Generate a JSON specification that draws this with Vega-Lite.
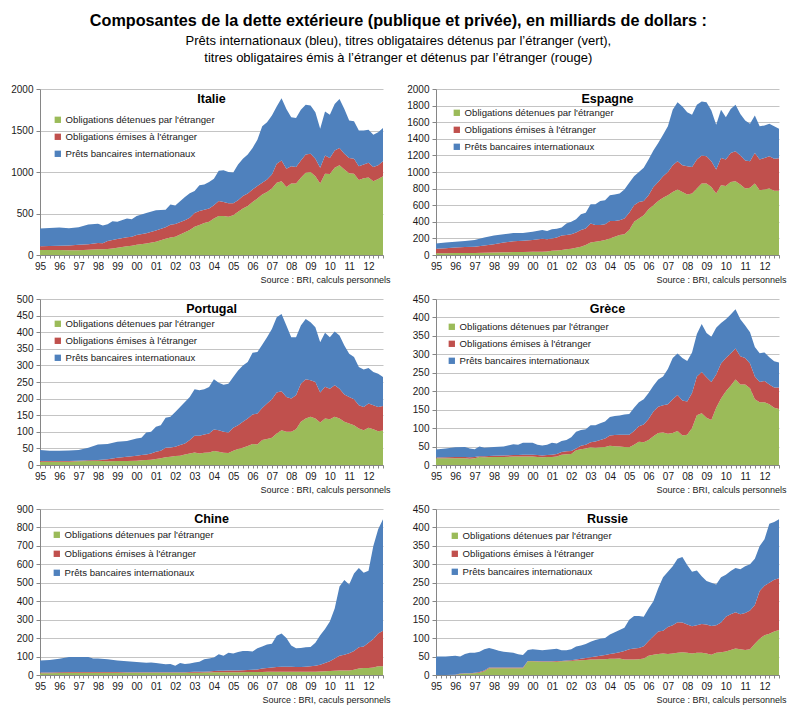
{
  "$schema": "https://vega.github.io/schema/vega-lite/v6.json",
  "padding": {"left": 10, "top": 12, "right": 4, "bottom": 4},
  "title": {
    "text": "Composantes de la dette extérieure (publique et privée), en milliards de dollars :",
    "subtitle": ["Prêts internationaux (bleu), titres obligataires détenus par l’étranger (vert),", "titres obligataires émis à l’étranger et détenus par l’étranger (rouge)"],
    "font": "Liberation Sans",
    "fontSize": 16.2,
    "fontWeight": "bold",
    "color": "#000000",
    "subtitleFont": "Liberation Sans",
    "subtitleFontSize": 13,
    "subtitleColor": "#000000",
    "subtitlePadding": 6,
    "subtitleLineHeight": 17,
    "anchor": "middle",
    "frame": "bounds",
    "baseline": "top",
    "offset": 19
  },
  "data": {
    "values": [
      {"c":"Italie","t":1995,"v1":60,"v2":45,"v3":215},
      {"c":"Italie","t":1995.5,"v1":60,"v2":48,"v3":217},
      {"c":"Italie","t":1996,"v1":60,"v2":52,"v3":218},
      {"c":"Italie","t":1996.5,"v1":58,"v2":57,"v3":207},
      {"c":"Italie","t":1997,"v1":58,"v2":64,"v3":213},
      {"c":"Italie","t":1997.5,"v1":62,"v2":68,"v3":238},
      {"c":"Italie","t":1998,"v1":68,"v2":77,"v3":233},
      {"c":"Italie","t":1998.25,"v1":68,"v2":74,"v3":213},
      {"c":"Italie","t":1998.5,"v1":72,"v2":96,"v3":202},
      {"c":"Italie","t":1998.75,"v1":78,"v2":102,"v3":228},
      {"c":"Italie","t":1999,"v1":88,"v2":104,"v3":210},
      {"c":"Italie","t":1999.5,"v1":105,"v2":110,"v3":225},
      {"c":"Italie","t":1999.75,"v1":110,"v2":110,"v3":210},
      {"c":"Italie","t":2000,"v1":125,"v2":115,"v3":230},
      {"c":"Italie","t":2000.5,"v1":140,"v2":122,"v3":243},
      {"c":"Italie","t":2001,"v1":160,"v2":135,"v3":245},
      {"c":"Italie","t":2001.5,"v1":195,"v2":140,"v3":210},
      {"c":"Italie","t":2001.75,"v1":210,"v2":155,"v3":243},
      {"c":"Italie","t":2002,"v1":220,"v2":155,"v3":220},
      {"c":"Italie","t":2002.5,"v1":275,"v2":145,"v3":280},
      {"c":"Italie","t":2002.75,"v1":300,"v2":150,"v3":295},
      {"c":"Italie","t":2003,"v1":340,"v2":165,"v3":265},
      {"c":"Italie","t":2003.25,"v1":360,"v2":170,"v3":310},
      {"c":"Italie","t":2003.5,"v1":385,"v2":160,"v3":305},
      {"c":"Italie","t":2003.75,"v1":400,"v2":160,"v3":320},
      {"c":"Italie","t":2004,"v1":440,"v2":160,"v3":320},
      {"c":"Italie","t":2004.25,"v1":470,"v2":180,"v3":365},
      {"c":"Italie","t":2004.5,"v1":470,"v2":170,"v3":380},
      {"c":"Italie","t":2004.75,"v1":460,"v2":165,"v3":375},
      {"c":"Italie","t":2005,"v1":480,"v2":145,"v3":370},
      {"c":"Italie","t":2005.25,"v1":520,"v2":140,"v3":430},
      {"c":"Italie","t":2005.5,"v1":560,"v2":150,"v3":450},
      {"c":"Italie","t":2005.75,"v1":590,"v2":150,"v3":470},
      {"c":"Italie","t":2006,"v1":640,"v2":150,"v3":500},
      {"c":"Italie","t":2006.25,"v1":680,"v2":150,"v3":560},
      {"c":"Italie","t":2006.5,"v1":730,"v2":140,"v3":680},
      {"c":"Italie","t":2006.75,"v1":760,"v2":150,"v3":690},
      {"c":"Italie","t":2007,"v1":800,"v2":170,"v3":710},
      {"c":"Italie","t":2007.25,"v1":870,"v2":230,"v3":690},
      {"c":"Italie","t":2007.5,"v1":890,"v2":250,"v3":750},
      {"c":"Italie","t":2007.75,"v1":820,"v2":220,"v3":720},
      {"c":"Italie","t":2008,"v1":860,"v2":210,"v3":590},
      {"c":"Italie","t":2008.25,"v1":860,"v2":200,"v3":590},
      {"c":"Italie","t":2008.5,"v1":930,"v2":210,"v3":610},
      {"c":"Italie","t":2008.75,"v1":990,"v2":220,"v3":600},
      {"c":"Italie","t":2009,"v1":1000,"v2":220,"v3":580},
      {"c":"Italie","t":2009.25,"v1":950,"v2":210,"v3":560},
      {"c":"Italie","t":2009.5,"v1":860,"v2":190,"v3":470},
      {"c":"Italie","t":2009.75,"v1":980,"v2":220,"v3":530},
      {"c":"Italie","t":2010,"v1":975,"v2":195,"v3":520},
      {"c":"Italie","t":2010.25,"v1":1050,"v2":210,"v3":560},
      {"c":"Italie","t":2010.5,"v1":1080,"v2":210,"v3":590},
      {"c":"Italie","t":2010.75,"v1":1030,"v2":190,"v3":540},
      {"c":"Italie","t":2011,"v1":985,"v2":185,"v3":450},
      {"c":"Italie","t":2011.25,"v1":980,"v2":180,"v3":450},
      {"c":"Italie","t":2011.5,"v1":905,"v2":165,"v3":430},
      {"c":"Italie","t":2011.75,"v1":925,"v2":165,"v3":410},
      {"c":"Italie","t":2012,"v1":935,"v2":175,"v3":400},
      {"c":"Italie","t":2012.25,"v1":890,"v2":170,"v3":390},
      {"c":"Italie","t":2012.5,"v1":915,"v2":165,"v3":400},
      {"c":"Italie","t":2012.75,"v1":950,"v2":180,"v3":400},

      {"c":"Espagne","t":1995,"v1":20,"v2":55,"v3":65},
      {"c":"Espagne","t":1995.5,"v1":22,"v2":60,"v3":68},
      {"c":"Espagne","t":1996,"v1":25,"v2":65,"v3":70},
      {"c":"Espagne","t":1996.5,"v1":25,"v2":70,"v3":75},
      {"c":"Espagne","t":1997,"v1":25,"v2":75,"v3":80},
      {"c":"Espagne","t":1997.5,"v1":28,"v2":87,"v3":95},
      {"c":"Espagne","t":1998,"v1":30,"v2":100,"v3":105},
      {"c":"Espagne","t":1998.5,"v1":32,"v2":118,"v3":100},
      {"c":"Espagne","t":1999,"v1":35,"v2":130,"v3":100},
      {"c":"Espagne","t":1999.5,"v1":37,"v2":135,"v3":93},
      {"c":"Espagne","t":2000,"v1":40,"v2":140,"v3":100},
      {"c":"Espagne","t":2000.5,"v1":40,"v2":155,"v3":105},
      {"c":"Espagne","t":2000.75,"v1":42,"v2":148,"v3":100},
      {"c":"Espagne","t":2001,"v1":50,"v2":150,"v3":110},
      {"c":"Espagne","t":2001.25,"v1":55,"v2":155,"v3":105},
      {"c":"Espagne","t":2001.5,"v1":60,"v2":175,"v3":95},
      {"c":"Espagne","t":2001.75,"v1":68,"v2":172,"v3":140},
      {"c":"Espagne","t":2002,"v1":75,"v2":175,"v3":150},
      {"c":"Espagne","t":2002.25,"v1":88,"v2":182,"v3":160},
      {"c":"Espagne","t":2002.5,"v1":100,"v2":200,"v3":190},
      {"c":"Espagne","t":2002.75,"v1":120,"v2":200,"v3":190},
      {"c":"Espagne","t":2003,"v1":150,"v2":230,"v3":230},
      {"c":"Espagne","t":2003.25,"v1":160,"v2":200,"v3":250},
      {"c":"Espagne","t":2003.5,"v1":170,"v2":190,"v3":290},
      {"c":"Espagne","t":2003.75,"v1":180,"v2":190,"v3":290},
      {"c":"Espagne","t":2004,"v1":200,"v2":210,"v3":310},
      {"c":"Espagne","t":2004.25,"v1":220,"v2":190,"v3":320},
      {"c":"Espagne","t":2004.5,"v1":240,"v2":180,"v3":320},
      {"c":"Espagne","t":2004.75,"v1":250,"v2":190,"v3":350},
      {"c":"Espagne","t":2005,"v1":300,"v2":210,"v3":360},
      {"c":"Espagne","t":2005.25,"v1":400,"v2":200,"v3":350},
      {"c":"Espagne","t":2005.5,"v1":440,"v2":200,"v3":360},
      {"c":"Espagne","t":2005.75,"v1":480,"v2":170,"v3":400},
      {"c":"Espagne","t":2006,"v1":550,"v2":170,"v3":430},
      {"c":"Espagne","t":2006.25,"v1":600,"v2":220,"v3":440},
      {"c":"Espagne","t":2006.5,"v1":650,"v2":230,"v3":470},
      {"c":"Espagne","t":2006.75,"v1":690,"v2":260,"v3":500},
      {"c":"Espagne","t":2007,"v1":720,"v2":280,"v3":550},
      {"c":"Espagne","t":2007.25,"v1":760,"v2":320,"v3":670},
      {"c":"Espagne","t":2007.5,"v1":790,"v2":340,"v3":710},
      {"c":"Espagne","t":2007.75,"v1":760,"v2":320,"v3":710},
      {"c":"Espagne","t":2008,"v1":730,"v2":340,"v3":650},
      {"c":"Espagne","t":2008.25,"v1":740,"v2":320,"v3":630},
      {"c":"Espagne","t":2008.5,"v1":800,"v2":350,"v3":660},
      {"c":"Espagne","t":2008.75,"v1":860,"v2":340,"v3":650},
      {"c":"Espagne","t":2009,"v1":860,"v2":330,"v3":650},
      {"c":"Espagne","t":2009.25,"v1":820,"v2":310,"v3":610},
      {"c":"Espagne","t":2009.5,"v1":740,"v2":290,"v3":540},
      {"c":"Espagne","t":2009.75,"v1":840,"v2":330,"v3":580},
      {"c":"Espagne","t":2010,"v1":830,"v2":320,"v3":510},
      {"c":"Espagne","t":2010.25,"v1":880,"v2":350,"v3":530},
      {"c":"Espagne","t":2010.5,"v1":890,"v2":360,"v3":560},
      {"c":"Espagne","t":2010.75,"v1":850,"v2":350,"v3":500},
      {"c":"Espagne","t":2011,"v1":800,"v2":340,"v3":480},
      {"c":"Espagne","t":2011.25,"v1":810,"v2":320,"v3":450},
      {"c":"Espagne","t":2011.5,"v1":860,"v2":370,"v3":450},
      {"c":"Espagne","t":2011.75,"v1":780,"v2":370,"v3":400},
      {"c":"Espagne","t":2012,"v1":790,"v2":380,"v3":390},
      {"c":"Espagne","t":2012.25,"v1":800,"v2":390,"v3":390},
      {"c":"Espagne","t":2012.5,"v1":775,"v2":385,"v3":390},
      {"c":"Espagne","t":2012.75,"v1":775,"v2":390,"v3":355},

      {"c":"Portugal","t":1995,"v1":10,"v2":2,"v3":33},
      {"c":"Portugal","t":1995.5,"v1":10,"v2":2,"v3":31},
      {"c":"Portugal","t":1996,"v1":10,"v2":2,"v3":31},
      {"c":"Portugal","t":1996.5,"v1":10,"v2":2,"v3":32},
      {"c":"Portugal","t":1997,"v1":11,"v2":2,"v3":32},
      {"c":"Portugal","t":1997.5,"v1":12,"v2":2,"v3":38},
      {"c":"Portugal","t":1998,"v1":13,"v2":2,"v3":47},
      {"c":"Portugal","t":1998.5,"v1":11,"v2":6,"v3":46},
      {"c":"Portugal","t":1999,"v1":12,"v2":10,"v3":48},
      {"c":"Portugal","t":1999.5,"v1":12,"v2":13,"v3":47},
      {"c":"Portugal","t":2000,"v1":13,"v2":15,"v3":52},
      {"c":"Portugal","t":2000.25,"v1":14,"v2":16,"v3":52},
      {"c":"Portugal","t":2000.5,"v1":15,"v2":17,"v3":66},
      {"c":"Portugal","t":2000.75,"v1":16,"v2":19,"v3":65},
      {"c":"Portugal","t":2001,"v1":18,"v2":22,"v3":75},
      {"c":"Portugal","t":2001.25,"v1":20,"v2":23,"v3":77},
      {"c":"Portugal","t":2001.5,"v1":23,"v2":29,"v3":90},
      {"c":"Portugal","t":2001.75,"v1":25,"v2":28,"v3":92},
      {"c":"Portugal","t":2002,"v1":27,"v2":28,"v3":105},
      {"c":"Portugal","t":2002.25,"v1":28,"v2":32,"v3":115},
      {"c":"Portugal","t":2002.5,"v1":32,"v2":33,"v3":125},
      {"c":"Portugal","t":2002.75,"v1":35,"v2":40,"v3":130},
      {"c":"Portugal","t":2003,"v1":38,"v2":50,"v3":140},
      {"c":"Portugal","t":2003.25,"v1":35,"v2":53,"v3":137},
      {"c":"Portugal","t":2003.5,"v1":37,"v2":55,"v3":136},
      {"c":"Portugal","t":2003.75,"v1":38,"v2":57,"v3":140},
      {"c":"Portugal","t":2004,"v1":42,"v2":65,"v3":151},
      {"c":"Portugal","t":2004.25,"v1":40,"v2":65,"v3":143},
      {"c":"Portugal","t":2004.5,"v1":37,"v2":63,"v3":142},
      {"c":"Portugal","t":2004.75,"v1":36,"v2":62,"v3":147},
      {"c":"Portugal","t":2005,"v1":43,"v2":69,"v3":153},
      {"c":"Portugal","t":2005.25,"v1":48,"v2":72,"v3":165},
      {"c":"Portugal","t":2005.5,"v1":52,"v2":78,"v3":170},
      {"c":"Portugal","t":2005.75,"v1":57,"v2":83,"v3":170},
      {"c":"Portugal","t":2006,"v1":63,"v2":89,"v3":186},
      {"c":"Portugal","t":2006.25,"v1":62,"v2":93,"v3":185},
      {"c":"Portugal","t":2006.5,"v1":75,"v2":97,"v3":190},
      {"c":"Portugal","t":2006.75,"v1":78,"v2":107,"v3":200},
      {"c":"Portugal","t":2007,"v1":82,"v2":116,"v3":212},
      {"c":"Portugal","t":2007.25,"v1":95,"v2":123,"v3":227},
      {"c":"Portugal","t":2007.5,"v1":105,"v2":117,"v3":233},
      {"c":"Portugal","t":2007.75,"v1":100,"v2":105,"v3":215},
      {"c":"Portugal","t":2008,"v1":100,"v2":100,"v3":185},
      {"c":"Portugal","t":2008.25,"v1":108,"v2":102,"v3":175},
      {"c":"Portugal","t":2008.5,"v1":130,"v2":115,"v3":175},
      {"c":"Portugal","t":2008.75,"v1":140,"v2":118,"v3":182},
      {"c":"Portugal","t":2009,"v1":145,"v2":110,"v3":175},
      {"c":"Portugal","t":2009.25,"v1":140,"v2":110,"v3":165},
      {"c":"Portugal","t":2009.5,"v1":128,"v2":90,"v3":152},
      {"c":"Portugal","t":2009.75,"v1":140,"v2":96,"v3":162},
      {"c":"Portugal","t":2010,"v1":138,"v2":92,"v3":155},
      {"c":"Portugal","t":2010.25,"v1":145,"v2":95,"v3":162},
      {"c":"Portugal","t":2010.5,"v1":140,"v2":90,"v3":160},
      {"c":"Portugal","t":2010.75,"v1":130,"v2":82,"v3":148},
      {"c":"Portugal","t":2011,"v1":125,"v2":80,"v3":130},
      {"c":"Portugal","t":2011.25,"v1":120,"v2":78,"v3":127},
      {"c":"Portugal","t":2011.5,"v1":110,"v2":70,"v3":115},
      {"c":"Portugal","t":2011.75,"v1":105,"v2":70,"v3":113},
      {"c":"Portugal","t":2012,"v1":112,"v2":73,"v3":107},
      {"c":"Portugal","t":2012.25,"v1":108,"v2":72,"v3":100},
      {"c":"Portugal","t":2012.5,"v1":102,"v2":73,"v3":100},
      {"c":"Portugal","t":2012.75,"v1":104,"v2":74,"v3":87},

      {"c":"Grèce","t":1995,"v1":18,"v2":2,"v3":22},
      {"c":"Grèce","t":1995.5,"v1":18,"v2":3,"v3":24},
      {"c":"Grèce","t":1996,"v1":18,"v2":4,"v3":26},
      {"c":"Grèce","t":1996.5,"v1":18,"v2":4,"v3":27},
      {"c":"Grèce","t":1996.75,"v1":17,"v2":4,"v3":24},
      {"c":"Grèce","t":1997,"v1":18,"v2":4,"v3":21},
      {"c":"Grèce","t":1997.25,"v1":22,"v2":2,"v3":26},
      {"c":"Grèce","t":1997.5,"v1":21,"v2":3,"v3":23},
      {"c":"Grèce","t":1998,"v1":22,"v2":3,"v3":24},
      {"c":"Grèce","t":1998.5,"v1":22,"v2":4,"v3":24},
      {"c":"Grèce","t":1999,"v1":23,"v2":4,"v3":29},
      {"c":"Grèce","t":1999.25,"v1":23,"v2":4,"v3":28},
      {"c":"Grèce","t":1999.5,"v1":23,"v2":5,"v3":32},
      {"c":"Grèce","t":1999.75,"v1":23,"v2":5,"v3":32},
      {"c":"Grèce","t":2000,"v1":23,"v2":5,"v3":32},
      {"c":"Grèce","t":2000.25,"v1":22,"v2":5,"v3":28},
      {"c":"Grèce","t":2000.5,"v1":21,"v2":5,"v3":27},
      {"c":"Grèce","t":2000.75,"v1":22,"v2":5,"v3":28},
      {"c":"Grèce","t":2001,"v1":22,"v2":6,"v3":32},
      {"c":"Grèce","t":2001.25,"v1":23,"v2":7,"v3":28},
      {"c":"Grèce","t":2001.5,"v1":28,"v2":7,"v3":30},
      {"c":"Grèce","t":2001.75,"v1":29,"v2":8,"v3":31},
      {"c":"Grèce","t":2002,"v1":30,"v2":8,"v3":37},
      {"c":"Grèce","t":2002.25,"v1":40,"v2":5,"v3":45},
      {"c":"Grèce","t":2002.5,"v1":43,"v2":9,"v3":43},
      {"c":"Grèce","t":2002.75,"v1":45,"v2":10,"v3":42},
      {"c":"Grèce","t":2003,"v1":48,"v2":14,"v3":46},
      {"c":"Grèce","t":2003.25,"v1":47,"v2":17,"v3":44},
      {"c":"Grèce","t":2003.5,"v1":48,"v2":20,"v3":45},
      {"c":"Grèce","t":2003.75,"v1":49,"v2":23,"v3":46},
      {"c":"Grèce","t":2004,"v1":52,"v2":28,"v3":50},
      {"c":"Grèce","t":2004.25,"v1":51,"v2":30,"v3":52},
      {"c":"Grèce","t":2004.5,"v1":50,"v2":32,"v3":52},
      {"c":"Grèce","t":2004.75,"v1":49,"v2":33,"v3":55},
      {"c":"Grèce","t":2005,"v1":48,"v2":34,"v3":56},
      {"c":"Grèce","t":2005.25,"v1":55,"v2":37,"v3":63},
      {"c":"Grèce","t":2005.5,"v1":63,"v2":42,"v3":65},
      {"c":"Grèce","t":2005.75,"v1":62,"v2":48,"v3":68},
      {"c":"Grèce","t":2006,"v1":68,"v2":57,"v3":70},
      {"c":"Grèce","t":2006.25,"v1":78,"v2":67,"v3":70},
      {"c":"Grèce","t":2006.5,"v1":87,"v2":71,"v3":74},
      {"c":"Grèce","t":2006.75,"v1":88,"v2":74,"v3":78},
      {"c":"Grèce","t":2007,"v1":85,"v2":80,"v3":95},
      {"c":"Grèce","t":2007.25,"v1":87,"v2":91,"v3":112},
      {"c":"Grèce","t":2007.5,"v1":92,"v2":98,"v3":112},
      {"c":"Grèce","t":2007.75,"v1":80,"v2":95,"v3":115},
      {"c":"Grèce","t":2008,"v1":82,"v2":90,"v3":110},
      {"c":"Grèce","t":2008.25,"v1":100,"v2":95,"v3":110},
      {"c":"Grèce","t":2008.5,"v1":135,"v2":105,"v3":115},
      {"c":"Grèce","t":2008.75,"v1":140,"v2":112,"v3":130},
      {"c":"Grèce","t":2009,"v1":128,"v2":110,"v3":120},
      {"c":"Grèce","t":2009.25,"v1":122,"v2":103,"v3":123},
      {"c":"Grèce","t":2009.5,"v1":155,"v2":90,"v3":127},
      {"c":"Grèce","t":2009.75,"v1":180,"v2":95,"v3":110},
      {"c":"Grèce","t":2010,"v1":200,"v2":90,"v3":105},
      {"c":"Grèce","t":2010.25,"v1":215,"v2":87,"v3":106},
      {"c":"Grèce","t":2010.5,"v1":232,"v2":84,"v3":106},
      {"c":"Grèce","t":2010.75,"v1":218,"v2":77,"v3":100},
      {"c":"Grèce","t":2011,"v1":218,"v2":72,"v3":88},
      {"c":"Grèce","t":2011.25,"v1":208,"v2":67,"v3":85},
      {"c":"Grèce","t":2011.5,"v1":178,"v2":62,"v3":80},
      {"c":"Grèce","t":2011.75,"v1":170,"v2":55,"v3":78},
      {"c":"Grèce","t":2012,"v1":170,"v2":58,"v3":77},
      {"c":"Grèce","t":2012.25,"v1":165,"v2":53,"v3":74},
      {"c":"Grèce","t":2012.5,"v1":155,"v2":55,"v3":71},
      {"c":"Grèce","t":2012.75,"v1":152,"v2":58,"v3":68},

      {"c":"Chine","t":1995,"v1":10,"v2":4,"v3":64},
      {"c":"Chine","t":1995.5,"v1":10,"v2":4,"v3":68},
      {"c":"Chine","t":1996,"v1":11,"v2":4,"v3":73},
      {"c":"Chine","t":1996.5,"v1":12,"v2":4,"v3":81},
      {"c":"Chine","t":1997,"v1":12,"v2":4,"v3":82},
      {"c":"Chine","t":1997.5,"v1":12,"v2":4,"v3":81},
      {"c":"Chine","t":1997.75,"v1":12,"v2":4,"v3":74},
      {"c":"Chine","t":1998,"v1":12,"v2":4,"v3":74},
      {"c":"Chine","t":1998.5,"v1":12,"v2":4,"v3":69},
      {"c":"Chine","t":1999,"v1":12,"v2":4,"v3":62},
      {"c":"Chine","t":1999.5,"v1":12,"v2":3,"v3":60},
      {"c":"Chine","t":2000,"v1":12,"v2":3,"v3":55},
      {"c":"Chine","t":2000.5,"v1":12,"v2":3,"v3":51},
      {"c":"Chine","t":2000.75,"v1":12,"v2":3,"v3":53},
      {"c":"Chine","t":2001,"v1":12,"v2":3,"v3":50},
      {"c":"Chine","t":2001.5,"v1":12,"v2":3,"v3":43},
      {"c":"Chine","t":2001.75,"v1":12,"v2":3,"v3":45},
      {"c":"Chine","t":2002,"v1":12,"v2":3,"v3":35},
      {"c":"Chine","t":2002.25,"v1":12,"v2":3,"v3":50},
      {"c":"Chine","t":2002.5,"v1":12,"v2":3,"v3":45},
      {"c":"Chine","t":2002.75,"v1":12,"v2":4,"v3":47},
      {"c":"Chine","t":2003,"v1":12,"v2":5,"v3":51},
      {"c":"Chine","t":2003.25,"v1":12,"v2":5,"v3":55},
      {"c":"Chine","t":2003.5,"v1":13,"v2":5,"v3":67},
      {"c":"Chine","t":2003.75,"v1":13,"v2":6,"v3":71},
      {"c":"Chine","t":2004,"v1":15,"v2":7,"v3":73},
      {"c":"Chine","t":2004.25,"v1":15,"v2":8,"v3":89},
      {"c":"Chine","t":2004.5,"v1":15,"v2":8,"v3":82},
      {"c":"Chine","t":2004.75,"v1":15,"v2":9,"v3":96},
      {"c":"Chine","t":2005,"v1":15,"v2":10,"v3":92},
      {"c":"Chine","t":2005.25,"v1":15,"v2":10,"v3":100},
      {"c":"Chine","t":2005.5,"v1":15,"v2":11,"v3":104},
      {"c":"Chine","t":2005.75,"v1":16,"v2":11,"v3":103},
      {"c":"Chine","t":2006,"v1":16,"v2":12,"v3":100},
      {"c":"Chine","t":2006.25,"v1":16,"v2":14,"v3":115},
      {"c":"Chine","t":2006.5,"v1":16,"v2":19,"v3":120},
      {"c":"Chine","t":2006.75,"v1":17,"v2":21,"v3":127},
      {"c":"Chine","t":2007,"v1":17,"v2":23,"v3":130},
      {"c":"Chine","t":2007.25,"v1":17,"v2":26,"v3":170},
      {"c":"Chine","t":2007.5,"v1":17,"v2":28,"v3":180},
      {"c":"Chine","t":2007.75,"v1":17,"v2":28,"v3":155},
      {"c":"Chine","t":2008,"v1":17,"v2":28,"v3":115},
      {"c":"Chine","t":2008.25,"v1":17,"v2":27,"v3":101},
      {"c":"Chine","t":2008.5,"v1":17,"v2":27,"v3":103},
      {"c":"Chine","t":2008.75,"v1":18,"v2":27,"v3":105},
      {"c":"Chine","t":2009,"v1":18,"v2":29,"v3":105},
      {"c":"Chine","t":2009.25,"v1":18,"v2":32,"v3":125},
      {"c":"Chine","t":2009.5,"v1":19,"v2":36,"v3":160},
      {"c":"Chine","t":2009.75,"v1":20,"v2":45,"v3":185},
      {"c":"Chine","t":2010,"v1":22,"v2":53,"v3":215},
      {"c":"Chine","t":2010.25,"v1":23,"v2":67,"v3":270},
      {"c":"Chine","t":2010.5,"v1":24,"v2":81,"v3":375},
      {"c":"Chine","t":2010.75,"v1":25,"v2":85,"v3":405},
      {"c":"Chine","t":2011,"v1":25,"v2":93,"v3":372},
      {"c":"Chine","t":2011.25,"v1":28,"v2":102,"v3":420},
      {"c":"Chine","t":2011.5,"v1":35,"v2":115,"v3":430},
      {"c":"Chine","t":2011.75,"v1":38,"v2":117,"v3":400},
      {"c":"Chine","t":2012,"v1":38,"v2":137,"v3":390},
      {"c":"Chine","t":2012.25,"v1":40,"v2":155,"v3":505},
      {"c":"Chine","t":2012.5,"v1":48,"v2":177,"v3":565},
      {"c":"Chine","t":2012.75,"v1":48,"v2":192,"v3":605},

      {"c":"Russie","t":1995,"v1":0,"v2":0,"v3":50},
      {"c":"Russie","t":1995.5,"v1":0,"v2":0,"v3":50},
      {"c":"Russie","t":1996,"v1":0,"v2":1,"v3":51},
      {"c":"Russie","t":1996.25,"v1":3,"v2":1,"v3":46},
      {"c":"Russie","t":1996.5,"v1":4,"v2":1,"v3":52},
      {"c":"Russie","t":1996.75,"v1":4,"v2":1,"v3":55},
      {"c":"Russie","t":1997,"v1":5,"v2":1,"v3":54},
      {"c":"Russie","t":1997.25,"v1":6,"v2":2,"v3":55},
      {"c":"Russie","t":1997.5,"v1":10,"v2":2,"v3":58},
      {"c":"Russie","t":1997.75,"v1":18,"v2":2,"v3":53},
      {"c":"Russie","t":1998,"v1":18,"v2":2,"v3":50},
      {"c":"Russie","t":1998.25,"v1":18,"v2":2,"v3":46},
      {"c":"Russie","t":1998.5,"v1":18,"v2":2,"v3":43},
      {"c":"Russie","t":1998.75,"v1":18,"v2":2,"v3":42},
      {"c":"Russie","t":1999,"v1":18,"v2":2,"v3":40},
      {"c":"Russie","t":1999.25,"v1":18,"v2":2,"v3":36},
      {"c":"Russie","t":1999.5,"v1":18,"v2":2,"v3":34},
      {"c":"Russie","t":1999.75,"v1":37,"v2":1,"v3":30},
      {"c":"Russie","t":2000,"v1":37,"v2":1,"v3":32},
      {"c":"Russie","t":2000.5,"v1":36,"v2":1,"v3":30},
      {"c":"Russie","t":2001,"v1":36,"v2":1,"v3":33},
      {"c":"Russie","t":2001.25,"v1":36,"v2":2,"v3":33},
      {"c":"Russie","t":2001.5,"v1":37,"v2":1,"v3":29},
      {"c":"Russie","t":2001.75,"v1":37,"v2":2,"v3":28},
      {"c":"Russie","t":2002,"v1":38,"v2":2,"v3":30},
      {"c":"Russie","t":2002.25,"v1":39,"v2":3,"v3":35},
      {"c":"Russie","t":2002.5,"v1":40,"v2":4,"v3":36},
      {"c":"Russie","t":2002.75,"v1":41,"v2":5,"v3":38},
      {"c":"Russie","t":2003,"v1":42,"v2":6,"v3":42},
      {"c":"Russie","t":2003.25,"v1":42,"v2":8,"v3":45},
      {"c":"Russie","t":2003.5,"v1":43,"v2":9,"v3":46},
      {"c":"Russie","t":2003.75,"v1":43,"v2":11,"v3":46},
      {"c":"Russie","t":2004,"v1":44,"v2":13,"v3":53},
      {"c":"Russie","t":2004.25,"v1":44,"v2":15,"v3":57},
      {"c":"Russie","t":2004.5,"v1":45,"v2":17,"v3":60},
      {"c":"Russie","t":2004.75,"v1":42,"v2":23,"v3":63},
      {"c":"Russie","t":2005,"v1":42,"v2":28,"v3":80},
      {"c":"Russie","t":2005.25,"v1":42,"v2":30,"v3":88},
      {"c":"Russie","t":2005.5,"v1":43,"v2":30,"v3":87},
      {"c":"Russie","t":2005.75,"v1":45,"v2":33,"v3":80},
      {"c":"Russie","t":2006,"v1":52,"v2":40,"v3":88},
      {"c":"Russie","t":2006.25,"v1":55,"v2":50,"v3":95},
      {"c":"Russie","t":2006.5,"v1":57,"v2":61,"v3":117},
      {"c":"Russie","t":2006.75,"v1":58,"v2":62,"v3":145},
      {"c":"Russie","t":2007,"v1":57,"v2":73,"v3":150},
      {"c":"Russie","t":2007.25,"v1":58,"v2":77,"v3":160},
      {"c":"Russie","t":2007.5,"v1":60,"v2":83,"v3":172},
      {"c":"Russie","t":2007.75,"v1":62,"v2":80,"v3":178},
      {"c":"Russie","t":2008,"v1":60,"v2":77,"v3":161},
      {"c":"Russie","t":2008.25,"v1":58,"v2":74,"v3":148},
      {"c":"Russie","t":2008.5,"v1":60,"v2":75,"v3":148},
      {"c":"Russie","t":2008.75,"v1":60,"v2":78,"v3":130},
      {"c":"Russie","t":2009,"v1":58,"v2":79,"v3":118},
      {"c":"Russie","t":2009.25,"v1":55,"v2":78,"v3":117},
      {"c":"Russie","t":2009.5,"v1":60,"v2":75,"v3":110},
      {"c":"Russie","t":2009.75,"v1":62,"v2":80,"v3":123},
      {"c":"Russie","t":2010,"v1":64,"v2":94,"v3":114},
      {"c":"Russie","t":2010.25,"v1":68,"v2":97,"v3":117},
      {"c":"Russie","t":2010.5,"v1":72,"v2":98,"v3":120},
      {"c":"Russie","t":2010.75,"v1":70,"v2":95,"v3":122},
      {"c":"Russie","t":2011,"v1":68,"v2":100,"v3":127},
      {"c":"Russie","t":2011.25,"v1":70,"v2":105,"v3":125},
      {"c":"Russie","t":2011.5,"v1":85,"v2":105,"v3":125},
      {"c":"Russie","t":2011.75,"v1":98,"v2":130,"v3":122},
      {"c":"Russie","t":2012,"v1":108,"v2":134,"v3":126},
      {"c":"Russie","t":2012.25,"v1":112,"v2":138,"v3":160},
      {"c":"Russie","t":2012.5,"v1":118,"v2":140,"v3":157},
      {"c":"Russie","t":2012.75,"v1":122,"v2":140,"v3":160}
    ]
  },
  "transform": [
    {"fold": ["v1", "v2", "v3"], "as": ["k", "v"]},
    {"lookup": "k", "from": {"data": {"values": [
      {"k": "v1", "n": "Obligations détenues par l'étranger"},
      {"k": "v2", "n": "Obligations émises à l'étranger"},
      {"k": "v3", "n": "Prêts bancaires internationaux"}
    ]}, "key": "k", "fields": ["n"]}}
  ],
  "columns": 2,
  "bounds": "flush",
  "spacing": {"row": 44, "column": 53},
  "resolve": {
    "scale": {"x": "independent", "y": "independent", "color": "independent"},
    "legend": {"color": "independent"}
  },
  "concat": [
    {
      "width": 343, "height": 166,
      "title": {"text": "Italie", "offset": -21},
      "transform": [{"filter": "datum.c == 'Italie'"}],
      "mark": {"type": "area", "opacity": 1},
      "encoding": {
        "x": {"field": "t", "type": "quantitative", "scale": {"domain": [1995, 2012.75], "nice": false, "zero": false},
          "axis": {"title": "Source : BRI, calculs personnels", "values": [1995,1995.25,1995.5,1995.75,1996,1996.25,1996.5,1996.75,1997,1997.25,1997.5,1997.75,1998,1998.25,1998.5,1998.75,1999,1999.25,1999.5,1999.75,2000,2000.25,2000.5,2000.75,2001,2001.25,2001.5,2001.75,2002,2002.25,2002.5,2002.75,2003,2003.25,2003.5,2003.75,2004,2004.25,2004.5,2004.75,2005,2005.25,2005.5,2005.75,2006,2006.25,2006.5,2006.75,2007,2007.25,2007.5,2007.75,2008,2008.25,2008.5,2008.75,2009,2009.25,2009.5,2009.75,2010,2010.25,2010.5,2010.75,2011,2011.25,2011.5,2011.75,2012,2012.25,2012.5,2012.75]}},
        "y": {"field": "v", "type": "quantitative", "stack": "zero", "scale": {"domain": [0, 2000], "nice": false},
          "axis": {"title": null, "values": [0, 500, 1000, 1500, 2000]}},
        "color": {"field": "n", "type": "nominal",
          "scale": {"domain": ["Obligations détenues par l'étranger", "Obligations émises à l'étranger", "Prêts bancaires internationaux"], "range": ["#9BBB59", "#C0504D", "#4F81BD"]},
          "legend": {"orient": "none", "legendX": 13, "legendY": 26, "rowPadding": 6}},
        "order": {"field": "k"}
      }
    },
    {
      "width": 343, "height": 166,
      "title": {"text": "Espagne", "offset": -21},
      "transform": [{"filter": "datum.c == 'Espagne'"}],
      "mark": {"type": "area", "opacity": 1},
      "encoding": {
        "x": {"field": "t", "type": "quantitative", "scale": {"domain": [1995, 2012.75], "nice": false, "zero": false},
          "axis": {"title": "Source : BRI, calculs personnels", "values": [1995,1995.25,1995.5,1995.75,1996,1996.25,1996.5,1996.75,1997,1997.25,1997.5,1997.75,1998,1998.25,1998.5,1998.75,1999,1999.25,1999.5,1999.75,2000,2000.25,2000.5,2000.75,2001,2001.25,2001.5,2001.75,2002,2002.25,2002.5,2002.75,2003,2003.25,2003.5,2003.75,2004,2004.25,2004.5,2004.75,2005,2005.25,2005.5,2005.75,2006,2006.25,2006.5,2006.75,2007,2007.25,2007.5,2007.75,2008,2008.25,2008.5,2008.75,2009,2009.25,2009.5,2009.75,2010,2010.25,2010.5,2010.75,2011,2011.25,2011.5,2011.75,2012,2012.25,2012.5,2012.75]}},
        "y": {"field": "v", "type": "quantitative", "stack": "zero", "scale": {"domain": [0, 2000], "nice": false},
          "axis": {"title": null, "values": [0, 200, 400, 600, 800, 1000, 1200, 1400, 1600, 1800, 2000]}},
        "color": {"field": "n", "type": "nominal",
          "scale": {"domain": ["Obligations détenues par l'étranger", "Obligations émises à l'étranger", "Prêts bancaires internationaux"], "range": ["#9BBB59", "#C0504D", "#4F81BD"]},
          "legend": {"orient": "none", "legendX": 16, "legendY": 19, "rowPadding": 6}},
        "order": {"field": "k"}
      }
    },
    {
      "width": 343, "height": 166,
      "title": {"text": "Portugal", "offset": -21},
      "transform": [{"filter": "datum.c == 'Portugal'"}],
      "mark": {"type": "area", "opacity": 1},
      "encoding": {
        "x": {"field": "t", "type": "quantitative", "scale": {"domain": [1995, 2012.75], "nice": false, "zero": false},
          "axis": {"title": "Source : BRI, calculs personnels", "values": [1995,1995.25,1995.5,1995.75,1996,1996.25,1996.5,1996.75,1997,1997.25,1997.5,1997.75,1998,1998.25,1998.5,1998.75,1999,1999.25,1999.5,1999.75,2000,2000.25,2000.5,2000.75,2001,2001.25,2001.5,2001.75,2002,2002.25,2002.5,2002.75,2003,2003.25,2003.5,2003.75,2004,2004.25,2004.5,2004.75,2005,2005.25,2005.5,2005.75,2006,2006.25,2006.5,2006.75,2007,2007.25,2007.5,2007.75,2008,2008.25,2008.5,2008.75,2009,2009.25,2009.5,2009.75,2010,2010.25,2010.5,2010.75,2011,2011.25,2011.5,2011.75,2012,2012.25,2012.5,2012.75]}},
        "y": {"field": "v", "type": "quantitative", "stack": "zero", "scale": {"domain": [0, 500], "nice": false},
          "axis": {"title": null, "values": [0, 50, 100, 150, 200, 250, 300, 350, 400, 450, 500]}},
        "color": {"field": "n", "type": "nominal",
          "scale": {"domain": ["Obligations détenues par l'étranger", "Obligations émises à l'étranger", "Prêts bancaires internationaux"], "range": ["#9BBB59", "#C0504D", "#4F81BD"]},
          "legend": {"orient": "none", "legendX": 13, "legendY": 20, "rowPadding": 6}},
        "order": {"field": "k"}
      }
    },
    {
      "width": 343, "height": 166,
      "title": {"text": "Grèce", "offset": -21},
      "transform": [{"filter": "datum.c == 'Grèce'"}],
      "mark": {"type": "area", "opacity": 1},
      "encoding": {
        "x": {"field": "t", "type": "quantitative", "scale": {"domain": [1995, 2012.75], "nice": false, "zero": false},
          "axis": {"title": "Source : BRI, calculs personnels", "values": [1995,1995.25,1995.5,1995.75,1996,1996.25,1996.5,1996.75,1997,1997.25,1997.5,1997.75,1998,1998.25,1998.5,1998.75,1999,1999.25,1999.5,1999.75,2000,2000.25,2000.5,2000.75,2001,2001.25,2001.5,2001.75,2002,2002.25,2002.5,2002.75,2003,2003.25,2003.5,2003.75,2004,2004.25,2004.5,2004.75,2005,2005.25,2005.5,2005.75,2006,2006.25,2006.5,2006.75,2007,2007.25,2007.5,2007.75,2008,2008.25,2008.5,2008.75,2009,2009.25,2009.5,2009.75,2010,2010.25,2010.5,2010.75,2011,2011.25,2011.5,2011.75,2012,2012.25,2012.5,2012.75]}},
        "y": {"field": "v", "type": "quantitative", "stack": "zero", "scale": {"domain": [0, 450], "nice": false},
          "axis": {"title": null, "values": [0, 50, 100, 150, 200, 250, 300, 350, 400, 450]}},
        "color": {"field": "n", "type": "nominal",
          "scale": {"domain": ["Obligations détenues par l'étranger", "Obligations émises à l'étranger", "Prêts bancaires internationaux"], "range": ["#9BBB59", "#C0504D", "#4F81BD"]},
          "legend": {"orient": "none", "legendX": 11, "legendY": 23, "rowPadding": 6}},
        "order": {"field": "k"}
      }
    },
    {
      "width": 343, "height": 166,
      "title": {"text": "Chine", "offset": -21},
      "transform": [{"filter": "datum.c == 'Chine'"}],
      "mark": {"type": "area", "opacity": 1},
      "encoding": {
        "x": {"field": "t", "type": "quantitative", "scale": {"domain": [1995, 2012.75], "nice": false, "zero": false},
          "axis": {"title": "Source : BRI, caculs personnels", "values": [1995,1995.25,1995.5,1995.75,1996,1996.25,1996.5,1996.75,1997,1997.25,1997.5,1997.75,1998,1998.25,1998.5,1998.75,1999,1999.25,1999.5,1999.75,2000,2000.25,2000.5,2000.75,2001,2001.25,2001.5,2001.75,2002,2002.25,2002.5,2002.75,2003,2003.25,2003.5,2003.75,2004,2004.25,2004.5,2004.75,2005,2005.25,2005.5,2005.75,2006,2006.25,2006.5,2006.75,2007,2007.25,2007.5,2007.75,2008,2008.25,2008.5,2008.75,2009,2009.25,2009.5,2009.75,2010,2010.25,2010.5,2010.75,2011,2011.25,2011.5,2011.75,2012,2012.25,2012.5,2012.75]}},
        "y": {"field": "v", "type": "quantitative", "stack": "zero", "scale": {"domain": [0, 900], "nice": false},
          "axis": {"title": null, "values": [0, 100, 200, 300, 400, 500, 600, 700, 800, 900]}},
        "color": {"field": "n", "type": "nominal",
          "scale": {"domain": ["Obligations détenues par l'étranger", "Obligations émises à l'étranger", "Prêts bancaires internationaux"], "range": ["#9BBB59", "#C0504D", "#4F81BD"]},
          "legend": {"orient": "none", "legendX": 12, "legendY": 21, "rowPadding": 8}},
        "order": {"field": "k"}
      }
    },
    {
      "width": 343, "height": 166,
      "title": {"text": "Russie", "offset": -21},
      "transform": [{"filter": "datum.c == 'Russie'"}],
      "mark": {"type": "area", "opacity": 1},
      "encoding": {
        "x": {"field": "t", "type": "quantitative", "scale": {"domain": [1995, 2012.75], "nice": false, "zero": false},
          "axis": {"title": "Source : BRI, calculs personnels", "values": [1995,1995.25,1995.5,1995.75,1996,1996.25,1996.5,1996.75,1997,1997.25,1997.5,1997.75,1998,1998.25,1998.5,1998.75,1999,1999.25,1999.5,1999.75,2000,2000.25,2000.5,2000.75,2001,2001.25,2001.5,2001.75,2002,2002.25,2002.5,2002.75,2003,2003.25,2003.5,2003.75,2004,2004.25,2004.5,2004.75,2005,2005.25,2005.5,2005.75,2006,2006.25,2006.5,2006.75,2007,2007.25,2007.5,2007.75,2008,2008.25,2008.5,2008.75,2009,2009.25,2009.5,2009.75,2010,2010.25,2010.5,2010.75,2011,2011.25,2011.5,2011.75,2012,2012.25,2012.5,2012.75]}},
        "y": {"field": "v", "type": "quantitative", "stack": "zero", "scale": {"domain": [0, 450], "nice": false},
          "axis": {"title": null, "values": [0, 50, 100, 150, 200, 250, 300, 350, 400, 450]}},
        "color": {"field": "n", "type": "nominal",
          "scale": {"domain": ["Obligations détenues par l'étranger", "Obligations émises à l'étranger", "Prêts bancaires internationaux"], "range": ["#9BBB59", "#C0504D", "#4F81BD"]},
          "legend": {"orient": "none", "legendX": 14, "legendY": 22, "rowPadding": 7}},
        "order": {"field": "k"}
      }
    }
  ],
  "config": {
    "font": "Liberation Sans",
    "view": {"stroke": null},
    "title": {"font": "Liberation Sans", "fontSize": 12.5, "fontWeight": "bold", "color": "#000000", "baseline": "top", "anchor": "middle", "frame": "group"},
    "axis": {"labelFont": "Liberation Sans", "labelFontSize": 10, "labelColor": "#1a1a1a", "domainColor": "#868686", "tickColor": "#868686", "titleFont": "Liberation Sans", "titleColor": "#1a1a1a", "format": "d"},
    "axisX": {"grid": false, "labelOverlap": false, "labelFlush": false, "tickSize": 3, "labelPadding": 3,
      "labelExpr": "datum.value % 1 == 0 ? substring(toString(datum.value), 2) : ''",
      "titleFontSize": 9, "titleFontWeight": "normal", "titleAnchor": "end", "titleAlign": "right", "titleBaseline": "middle", "titleX": 350, "titleY": 24},
    "axisY": {"gridColor": "#c4c4c4", "tickSize": 4, "labelPadding": 3},
    "legend": {"title": null, "symbolType": "square", "symbolSize": 40, "symbolStrokeWidth": 0, "labelFont": "Liberation Sans", "labelFontSize": 9.6, "labelColor": "#1a1a1a", "labelLimit": 300, "padding": 0, "labelOffset": 3}
  }
}
